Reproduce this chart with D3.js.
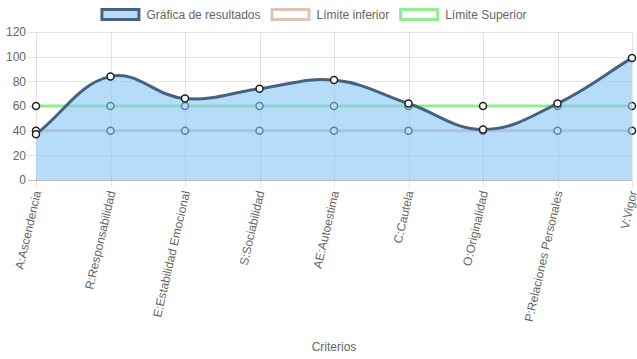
<!DOCTYPE html>
<html>
<head>
<meta charset="utf-8">
<script src="https://cdn.jsdelivr.net/npm/d3@7"></script>
<style>
  html, body { margin: 0; padding: 0; background: #fff; }
  svg { display: block; font-family: "Liberation Sans", Arial, Helvetica, sans-serif; }
</style>
</head>
<body>
<svg id="chart" width="637" height="359"></svg>
<script>
// ---- data ----
const categories = ["A:Ascendencia", "R:Responsabilidad", "E:Estabilidad Emocional", "S:Sociabilidad",
  "AE:Autoestima", "C:Cautela", "O:Originalidad", "P:Relaciones Personales", "V:Vigor"];
const resultados = [37, 84, 66, 74, 81, 62, 41, 62, 99];
const limiteInferior = [40, 40, 40, 40, 40, 40, 40, 40, 40];
const limiteSuperior = [60, 60, 60, 60, 60, 60, 60, 60, 60];
const yTicks = [0, 20, 40, 60, 80, 100, 120];
const seriesNames = ["Gráfica de resultados", "Límite inferior", "Límite Superior"];
const xTitle = "Criterios";

(function () {
// ---- styles ----
const C = {
  text: "#666",
  grid: "rgba(0,0,0,0.1)",
  zero: "rgba(0,0,0,0.25)",
  resLine: "#45637f",
  resFill: "rgba(135,196,245,0.6)",
  inf: "#e0c2b6",
  sup: "#90ee90",
  ptBorder: "#222"
};

const svg = d3.select("#chart");
const pLeft = 36, pRight = 632, pTop = 32, pBottom = 180;

const x = d3.scalePoint().domain(categories).range([pLeft, pRight]);
const y = d3.scaleLinear().domain([0, 120]).range([pBottom, pTop]);

// ---- grid ----
const grid = svg.append("g");
grid.selectAll("line.h").data(yTicks).join("line")
  .attr("x1", pLeft - 8).attr("x2", pRight)
  .attr("y1", d => Math.round(y(d)) + 0.5).attr("y2", d => Math.round(y(d)) + 0.5)
  .attr("stroke", d => d === 0 ? C.zero : C.grid).attr("stroke-width", 1);
grid.selectAll("line.v").data(categories).join("line")
  .attr("y1", pTop).attr("y2", pBottom + 8)
  .attr("x1", d => Math.round(x(d)) + 0.5).attr("x2", d => Math.round(x(d)) + 0.5)
  .attr("stroke", C.grid).attr("stroke-width", 1);

// y labels
svg.append("g").selectAll("text").data(yTicks).join("text")
  .attr("x", 26).attr("y", d => y(d)).attr("dy", "0.35em")
  .attr("text-anchor", "end").attr("font-size", 12).attr("fill", C.text)
  .text(d => d);

// x labels
svg.append("g").selectAll("text").data(categories).join("text")
  .attr("transform", d => `translate(${x(d) + 1},${191}) rotate(-77)`)
  .attr("text-anchor", "end").attr("dy", "0.35em")
  .attr("font-size", 12).attr("fill", C.text)
  .text(d => d);

// x title
svg.append("text").attr("x", (pLeft + pRight) / 2).attr("y", 351)
  .attr("text-anchor", "middle").attr("font-size", 12).attr("fill", C.text).text(xTitle);

// ---- Chart.js-like spline ----
function splinePath(values, tension, closeToZero) {
  const pts = values.map((v, i) => ({ x: x(categories[i]), y: y(v) }));
  pts.forEach((p, i) => {
    const pr = pts[i - 1] || p, nx = pts[i + 1] || p;
    const d01 = Math.hypot(p.x - pr.x, p.y - pr.y);
    const d12 = Math.hypot(nx.x - p.x, nx.y - p.y);
    let s01 = d01 / (d01 + d12), s12 = d12 / (d01 + d12);
    if (isNaN(s01)) s01 = 0; if (isNaN(s12)) s12 = 0;
    const fa = tension * s01, fb = tension * s12;
    p.cpPrev = { x: p.x - fa * (nx.x - pr.x), y: p.y - fa * (nx.y - pr.y) };
    p.cpNext = { x: p.x + fb * (nx.x - pr.x), y: p.y + fb * (nx.y - pr.y) };
    [p.cpPrev, p.cpNext].forEach(c => {
      c.x = Math.max(pLeft, Math.min(pRight, c.x));
      c.y = Math.max(pTop, Math.min(pBottom, c.y));
    });
  });
  const path = d3.path();
  path.moveTo(pts[0].x, pts[0].y);
  for (let i = 1; i < pts.length; i++) {
    const a = pts[i - 1], b = pts[i];
    path.bezierCurveTo(a.cpNext.x, a.cpNext.y, b.cpPrev.x, b.cpPrev.y, b.x, b.y);
  }
  if (closeToZero) {
    path.lineTo(pts[pts.length - 1].x, y(0));
    path.lineTo(pts[0].x, y(0));
    path.closePath();
  }
  return path.toString();
}

function drawSeries(values, stroke, fill, width) {
  const g = svg.append("g");
  if (fill) {
    g.append("path").attr("d", splinePath(values, 0.4, true)).attr("fill", fill);
  }
  g.append("path").attr("d", splinePath(values, 0.4, false))
    .attr("fill", "none").attr("stroke", stroke).attr("stroke-width", width);
  g.selectAll("circle").data(values).join("circle")
    .attr("cx", (d, i) => x(categories[i])).attr("cy", d => y(d)).attr("r", 3.5)
    .attr("fill", "#fff").attr("stroke", C.ptBorder).attr("stroke-width", 1.5);
}

// draw in reverse dataset order
drawSeries(limiteSuperior, C.sup, null, 3);
drawSeries(limiteInferior, C.inf, null, 3);
drawSeries(resultados, C.resLine, C.resFill, 3);

// ---- legend ----
const legendItems = [
  { name: seriesNames[0], stroke: C.resLine, fill: "rgb(183,220,249)" },
  { name: seriesNames[1], stroke: C.inf, fill: "#fff" },
  { name: seriesNames[2], stroke: C.sup, fill: "#fff" }
];
const lg = svg.append("g");
const items = lg.selectAll("g").data(legendItems).join("g");
items.append("rect").attr("x", 1.5).attr("y", 9.5).attr("width", 37).attr("height", 10)
  .attr("fill", d => d.fill).attr("stroke", d => d.stroke).attr("stroke-width", 3);
items.append("text").attr("x", 46).attr("y", 15).attr("dy", "0.35em")
  .attr("font-size", 12).attr("fill", C.text).text(d => d.name);
const widths = [];
items.each(function () {
  widths.push(40 + 6 + this.querySelector("text").getComputedTextLength() + 10);
});
const total = d3.sum(widths);
let cx = (637 - total) / 2;
items.attr("transform", (d, i) => { const t = `translate(${cx},0)`; cx += widths[i]; return t; });
})();
</script>
</body>
</html>
